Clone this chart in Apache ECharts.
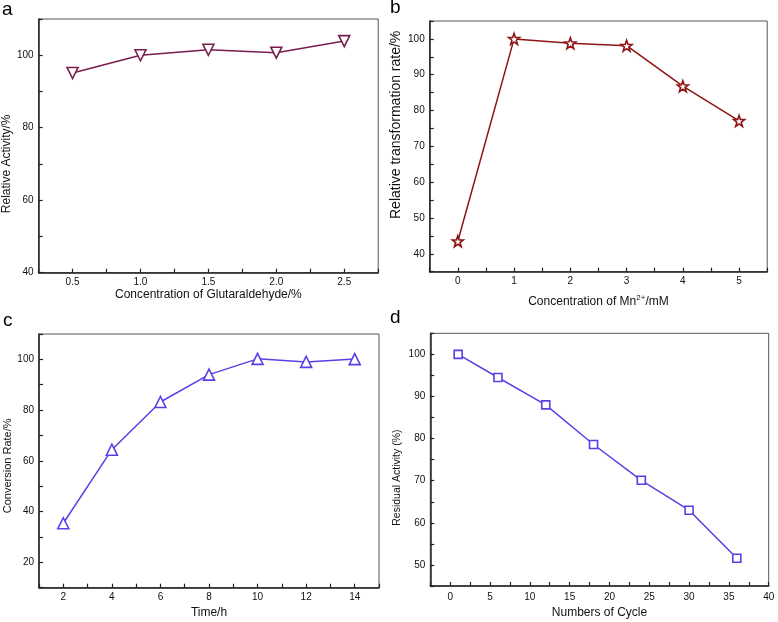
<!DOCTYPE html>
<html>
<head>
<meta charset="utf-8">
<script src="https://cdn.jsdelivr.net/npm/echarts@6/dist/echarts.min.js"></script>
<style>
html,body{margin:0;padding:0;background:#fff;}
#main{width:778px;height:622px;}
</style>
</head>
<body>
<div id="main"></div>
<script>
// Panel a
const glutaraldehyde = [0.5, 1.0, 1.5, 2.0, 2.5];
const relativeActivity = [95.1, 100.0, 101.5, 100.7, 103.9];
// Panel b
const mnConc = [0, 1, 2, 3, 4, 5];
const relTransformation = [43.5, 100.0, 98.8, 98.1, 86.8, 77.1];
// Panel c
const timeH = [2, 4, 6, 8, 10, 12, 14];
const conversionRate = [35.4, 64.4, 83.2, 94.0, 100.2, 99.0, 100.1];
// Panel d
const cycles = [1, 6, 12, 18, 24, 30, 36];
const residualActivity = [100.0, 94.5, 88.0, 78.6, 70.1, 63.0, 51.6];

const panelLabels = ['a', 'b', 'c', 'd'];

const FONT = '"Liberation Sans", Arial, sans-serif';
const AXIS_COLOR = '#222';

function pairs(xs, ys) { return xs.map((x, i) => [x, ys[i]]); }

const grids = [
  {left: 37.7, top: 19, width: 340.5, height: 253.7},
  {left: 429.7, top: 21, width: 337.5, height: 250.7},
  {left: 39, top: 334, width: 340, height: 253.7},
  {left: 430.3, top: 333.3, width: 338.4, height: 252.7}
];

function baseAxis(gi, min, max, interval, name, nameGap, margin, fmt, namePad, nameSize) {
  return {
    type: 'value', gridIndex: gi, min: min, max: max, interval: interval,
    name: name, nameLocation: 'middle', nameGap: nameGap,
    nameTextStyle: {fontFamily: FONT, fontSize: nameSize || 12, color: '#111', padding: namePad || 0,
      rich: {sup: {fontFamily: FONT, fontSize: 8, color: '#111', padding: [0, 0, 7, 0]}}},
    axisLine: {show: true, onZero: false, lineStyle: {color: AXIS_COLOR, width: 1.5}},
    axisTick: {show: true, inside: true, length: 4, lineStyle: {color: AXIS_COLOR, width: 1.2}},
    minorTick: {show: false},
    splitLine: {show: false},
    axisLabel: {fontFamily: FONT, fontSize: 10, color: '#111', margin: margin,
      showMinLabel: true, showMaxLabel: true, formatter: fmt}
  };
}

const isMult = (v, m) => Math.abs(Math.round(v / m) * m - v) < 1e-6;

const STAR = 'path://M0,-10 L2.35,-3.24 L9.51,-3.09 L3.8,1.24 L5.88,8.09 L0,4 L-5.88,8.09 L-3.8,1.24 L-9.51,-3.09 L-2.35,-3.24 Z';

const xAxes = [
  baseAxis(0, 0.25, 2.75, 0.25, 'Concentration of Glutaraldehyde/%', 13, 5,
    v => (isMult(v, 0.5) ? v.toFixed(1) : '')),
  baseAxis(1, -0.5, 5.5, 0.5, 'Concentration of Mn{sup|2+}/mM', 22, 5,
    v => (isMult(v, 1) ? String(Math.round(v)) : '')),
  baseAxis(2, 1, 15, 1, 'Time/h', 19, 5,
    v => (isMult(v, 2) ? String(Math.round(v)) : '')),
  baseAxis(3, -2.5, 40, 2.5, 'Numbers of Cycle', 21, 6,
    v => (isMult(v, 5) ? String(Math.round(v)) : ''))
];

const yAxes = [
  baseAxis(0, 40, 110, 10, 'Relative Activity/%', 23, 5,
    v => (isMult(v, 20) ? String(v) : ''), [0, 36, 0, 0], 12),
  baseAxis(1, 35, 105, 5, 'Relative transformation rate/%', 27, 5,
    v => (isMult(v, 10) ? String(v) : ''), [0, 0, 0, 43], 14),
  baseAxis(2, 10, 110, 10, 'Conversion Rate/%', 25, 5,
    v => (isMult(v, 20) && v > 10 && v < 110 ? String(v) : ''), [0, 10, 0, 0], 11),
  baseAxis(3, 45, 105, 5, 'Residual Activity (%)', 28, 5,
    v => (isMult(v, 10) ? String(v) : ''), [0, 36, 0, 0], 10.5)
];

function series(gi, xs, ys, color, symbol, size, rotate) {
  return {
    type: 'line', xAxisIndex: gi, yAxisIndex: gi, data: pairs(xs, ys),
    symbol: symbol, symbolSize: size, symbolRotate: rotate || 0, showSymbol: true,
    lineStyle: {color: color, width: 1.5},
    itemStyle: {color: '#fff', borderColor: color, borderWidth: 1.6},
    z: 5, silent: true, animation: false
  };
}

const option = {
  animation: false,
  backgroundColor: '#fff',
  grid: grids.map(g => Object.assign({show: true, borderColor: '#555', borderWidth: 1, backgroundColor: 'transparent'}, g)),
  xAxis: xAxes,
  yAxis: yAxes,
  series: [
    series(0, glutaraldehyde, relativeActivity, '#7a1d4e', 'triangle', 11, 180),
    series(1, mnConc, relTransformation, '#8e1414', STAR, 11),
    series(2, timeH, conversionRate, '#5b3fe6', 'triangle', 11),
    series(3, cycles, residualActivity, '#5b3fe6', 'rect', 8)
  ],
  graphic: [
    {type: 'text', left: 2, top: 0, style: {text: panelLabels[0], font: '19px ' + FONT, fill: '#000'}},
    {type: 'text', left: 390, top: -2, style: {text: panelLabels[1], font: '19px ' + FONT, fill: '#000'}},
    {type: 'text', left: 3, top: 311, style: {text: panelLabels[2], font: '19px ' + FONT, fill: '#000'}},
    {type: 'text', left: 390, top: 308, style: {text: panelLabels[3], font: '19px ' + FONT, fill: '#000'}}
  ]
};

const chart = echarts.init(document.getElementById('main'), null, {renderer: 'canvas'});
chart.setOption(option);
</script>
</body>
</html>
